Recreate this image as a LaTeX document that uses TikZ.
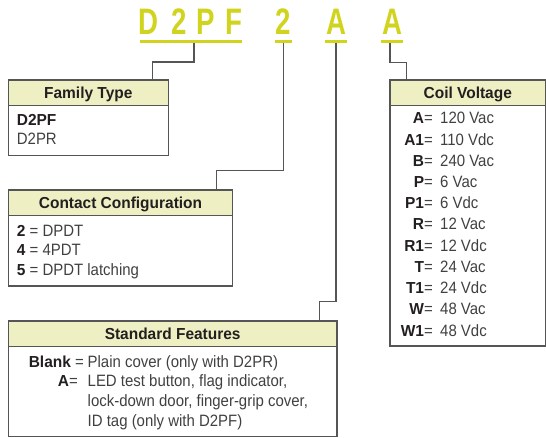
\documentclass[tikz,border=0pt]{standalone}
\usepackage{fontspec}
\setmainfont{Liberation Sans}[FakeStretch=0.91]
\newfontfamily\boldf{Liberation Sans Bold}[FakeStretch=0.97]
\newfontfamily\titlef{Liberation Sans Bold}[FakeStretch=0.75]
\definecolor{lime}{RGB}{208,212,30}
\definecolor{hdrfill}{RGB}{238,240,196}
\definecolor{edge}{RGB}{85,85,85}
\definecolor{bodyc}{RGB}{64,64,64}
\definecolor{ink}{RGB}{35,31,32}
\newcommand\bd[1]{{\boldf\fontsize{16}{18}\selectfont\color{ink}#1}}
\begin{document}
\begin{tikzpicture}[x=1bp,y=-1bp,
  hd/.style={draw=edge, line width=1.2bp, fill=hdrfill, rectangle, inner sep=0pt, outer sep=0pt,
     minimum height=25.6bp, text height=11.5bp, text depth=0pt, anchor=north west,
     font=\boldf\fontsize{16}{18}\selectfont, text=ink},
  bodybox/.style={draw=edge, line width=1.2bp, rectangle, inner sep=0pt, outer sep=0pt, anchor=north},
  txt/.style={anchor=base west, inner sep=0pt, font=\fontsize{16.5}{18}\selectfont, text=bodyc},
  code/.style={anchor=base east, inner sep=0pt, font=\fontsize{16.5}{18}\selectfont, text=bodyc},
  big/.style={anchor=base, inner sep=0pt, font=\titlef\fontsize{37}{40}\selectfont, text=lime},
  uline/.style={draw=lime, line width=2.7bp},
  conn/.style={draw=edge, line width=1.4bp}]
\useasboundingbox (0,0) rectangle (546,438);

% title letters
\node[big] (tD) at (148.3,35) {D};
\node[big] (t2a) at (179.2,35) {2};
\node[big] (tP) at (205.5,35) {P};
\node[big] (tF) at (234.2,35) {F};
\node[big] (t2) at (283.5,35) {2};
\node[big] (tA) at (336,35) {A};
\node[big] (tA2) at (392,35) {A};
\draw[uline] (140,41.7) -- (241.7,41.7);
\draw[uline] (275,41.7) -- (292,41.7);
\draw[uline] (325,41.7) -- (347,41.7);
\draw[uline] (380.7,41.7) -- (403.3,41.7);

% Family Type
\node[hd, minimum width=160bp] (famH) at (8.3,80) {Family Type};
\node[bodybox, minimum width=160bp, minimum height=49.7bp] (fam) at (famH.south) {};
\node[txt] (f1) at (16.7,126) {\bd{D2PF}};
\node[txt] (f2) at (16.7,145) {D2PR};

% Contact Configuration
\node[hd, minimum width=224.4bp] (conH) at (8.3,190) {Contact Configuration};
\node[bodybox, minimum width=224.4bp, minimum height=70.4bp] (con) at (conH.south) {};
\node[txt] (c1) at (16.7,236.5) {\bd{2} = DPDT};
\node[txt] (c2) at (16.7,256) {\bd{4} = 4PDT};
\node[txt] (c3) at (16.7,275.5) {\bd{5} = DPDT latching};

% Standard Features
\node[hd, minimum width=328.7bp] (stdH) at (8.3,321) {Standard Features};
\node[bodybox, minimum width=328.7bp, minimum height=90.2bp] (std) at (stdH.south) {};
\node[code] (s1c) at (84,367) {\bd{Blank} =};
\node[txt] (s1) at (87.5,367) {Plain cover (only with D2PR)};
\node[code] (s2c) at (78,386.8) {\bd{A}=};
\node[txt] (s2) at (87.5,386.8) {LED test button, flag indicator,};
\node[txt] (s3) at (87.5,406.6) {lock-down door, finger-grip cover,};
\node[txt] (s4) at (87.5,426.4) {ID tag (only with D2PF)};

% Coil Voltage
\node[hd, minimum width=155.5bp] (coilH) at (390,80) {Coil Voltage};
\node[bodybox, minimum width=155.5bp, minimum height=240.4bp] (coil) at (coilH.south) {};
\foreach \c/\v [count=\i from 0] in {A/120 Vac, A1/110 Vdc, B/240 Vac, P/6 Vac, P1/6 Vdc,
    R/12 Vac, R1/12 Vdc, T/24 Vac, T1/24 Vdc, W/48 Vac, W1/48 Vdc}{
  \node[code] (k\i) at (433,124+21.2*\i) {\bd{\c}=};
  \node[txt] (v\i) at (440,124+21.2*\i) {\v};
}

% connectors
\coordinate (uD) at (194,43);
\coordinate (u2) at (283.3,43);
\coordinate (uA) at (336,43);
\coordinate (uA2) at (390,43);
\coordinate (famIn) at (152.7,80);
\coordinate (conIn) at (216.7,190);
\coordinate (stdIn) at (319.3,321);
\coordinate (coilIn) at (406.7,80);
\draw[conn] (uD) -- ++(0,19) -| (famIn);
\draw[conn] (u2) -- ++(0,127.7) -| (conIn);
\draw[conn] (uA) -- ++(0,258.7) -| (stdIn);
\draw[conn] (uA2) -- ++(0,19.7) -| (coilIn);
\end{tikzpicture}
\end{document}
